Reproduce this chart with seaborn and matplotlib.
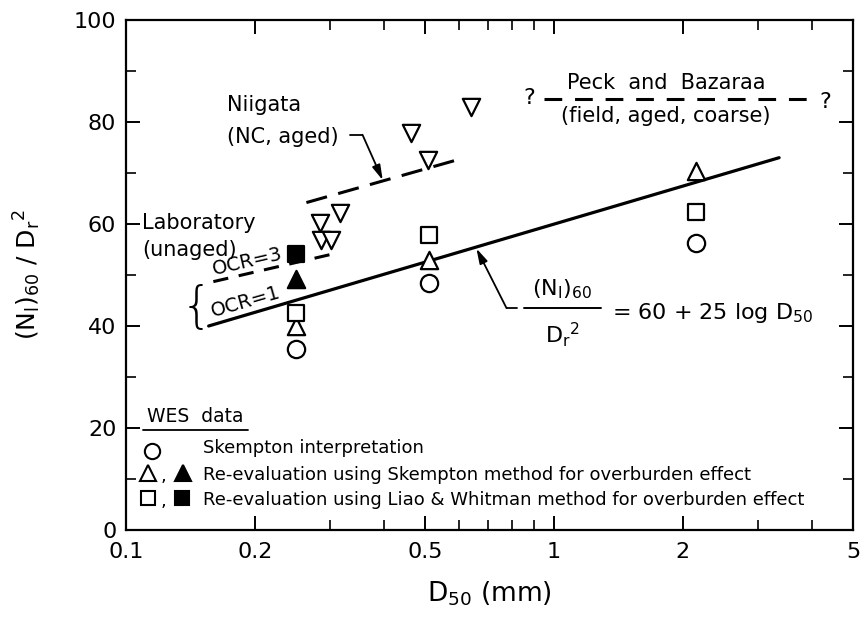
import matplotlib
matplotlib.use("Agg")
import matplotlib.pyplot as plt
import seaborn as sns
import numpy as np

sns.set_style("ticks")
plt.rcParams['font.family'] = ['DejaVu Sans']
plt.rcParams['mathtext.fontset'] = 'dejavusans'
plt.rcParams['text.color'] = 'black'
plt.rcParams['axes.labelcolor'] = 'black'
plt.rcParams['xtick.color'] = 'black'
plt.rcParams['ytick.color'] = 'black'

# ---------------- data ----------------
wes_d50 = [0.25, 0.51, 2.15]
skempton_interp = [35.5, 48.5, 56.2]
skempton_reeval = [40.0, 53.0, 70.3]
liao_whitman = [42.5, 57.8, 62.3]

ocr3_d50 = [0.25]
ocr3_skempton = [49.3]
ocr3_liao = [54.2]

niigata_d50 = [0.284, 0.286, 0.302, 0.316, 0.464, 0.508, 0.641]
niigata_vals = [60.1, 56.9, 56.9, 62.1, 77.8, 72.5, 83.0]

# trend lines
ocr1_line_d50 = [0.156, 3.36]
ocr1_line_vals = [40.0, 73.0]
ocr3_line_d50 = [0.16, 0.30]
ocr3_line_vals = [48.7, 54.0]
niigata_line_d50 = [0.264, 0.59]
niigata_line_vals = [64.2, 72.5]
peck_line_d50 = [0.95, 4.03]
peck_line_vals = [84.5, 84.5]

x_ticks = [0.1, 0.2, 0.5, 1, 2, 5]
x_tick_labels = ["0.1", "0.2", "0.5", "1", "2", "5"]
y_ticks = [0, 20, 40, 60, 80, 100]

# ---------------- figure ----------------
W, H = 862, 617
fig = plt.figure(figsize=(W / 100, H / 100), dpi=100)
ax = fig.add_axes([126 / W, 1 - 530 / H, (853 - 126) / W, (530 - 20) / H])
ax.set_xscale('log')
ax.set_xlim(0.1, 5)
ax.set_ylim(0, 100)

K = 'black'
mlw = 1.6
ms = 155

# lines
sns.lineplot(x=ocr1_line_d50, y=ocr1_line_vals, ax=ax, color=K, lw=2.3,
             estimator=None, sort=False)
sns.lineplot(x=ocr3_line_d50, y=ocr3_line_vals, ax=ax, color=K, lw=2.2,
             linestyle=(0, (5, 3.5)), estimator=None, sort=False)
sns.lineplot(x=niigata_line_d50, y=niigata_line_vals, ax=ax, color=K, lw=2.2,
             linestyle=(0, (7, 3.8)), estimator=None, sort=False)
sns.lineplot(x=peck_line_d50, y=peck_line_vals, ax=ax, color=K, lw=2.2,
             linestyle=(0, (5.8, 4.2)), estimator=None, sort=False)

# points
sns.scatterplot(x=wes_d50, y=skempton_interp, ax=ax, marker='o', s=ms,
                color='white', edgecolor=K, linewidth=mlw, zorder=5)
sns.scatterplot(x=wes_d50, y=skempton_reeval, ax=ax, marker='^', s=ms,
                color='white', edgecolor=K, linewidth=mlw, zorder=5)
sns.scatterplot(x=wes_d50, y=liao_whitman, ax=ax, marker='s', s=ms * 0.9,
                color='white', edgecolor=K, linewidth=mlw, zorder=5)
sns.scatterplot(x=ocr3_d50, y=ocr3_skempton, ax=ax, marker='^', s=ms,
                color=K, edgecolor=K, linewidth=mlw, zorder=5)
sns.scatterplot(x=ocr3_d50, y=ocr3_liao, ax=ax, marker='s', s=ms * 0.9,
                color=K, edgecolor=K, linewidth=mlw, zorder=5)
sns.scatterplot(x=niigata_d50, y=niigata_vals, ax=ax, marker='v', s=ms,
                color='white', edgecolor=K, linewidth=mlw, zorder=5)

# axes styling
for sp in ax.spines.values():
    sp.set_linewidth(1.6)
    sp.set_color(K)
ax.set_xticks(x_ticks)
ax.set_xticklabels(x_tick_labels)
ax.xaxis.set_minor_locator(matplotlib.ticker.FixedLocator(
    [0.3, 0.4, 0.6, 0.7, 0.8, 0.9, 3, 4]))
ax.xaxis.set_minor_formatter(matplotlib.ticker.NullFormatter())
ax.set_yticks(y_ticks)
ax.yaxis.set_minor_locator(matplotlib.ticker.MultipleLocator(10))
ax.tick_params(axis='both', which='major', direction='in', length=10,
               width=1.4, labelsize=16, top=True, right=True)
ax.tick_params(axis='x', which='major', pad=9)
ax.tick_params(axis='y', which='major', pad=7)
ax.tick_params(axis='both', which='minor', direction='in', length=7,
               width=1.2, top=True, right=True)
ax.set_xlabel("D$_{50}$ (mm)", fontsize=19, labelpad=12)
ax.set_ylabel("(N$_{\\rm l}$)$_{60}$ / D$_{\\rm r}$$^{2}$", fontsize=18, labelpad=22)

fs = 15
# Niigata annotation
ax.text(0.172, 83.3, "Niigata", fontsize=fs, va='center', ha='left')
ax.text(0.172, 77.0, "(NC, aged)", fontsize=fs, va='center', ha='left')
ax.plot([0.333, 0.357], [77.5, 77.5], color=K, lw=1.3)
ax.annotate("", xy=(0.398, 68.6), xytext=(0.357, 77.5),
            arrowprops=dict(arrowstyle='-|>,head_length=0.9,head_width=0.25',
                            color=K, lw=1.3, shrinkA=0, shrinkB=0))

# Peck and Bazaraa
ax.text(1.83, 87.6, "Peck  and  Bazaraa", fontsize=fs, ha='center', va='center')
ax.text(1.83, 81.2, "(field, aged, coarse)", fontsize=fs, ha='center', va='center')
ax.text(0.877, 84.8, "?", fontsize=fs + 1, ha='center', va='center')
ax.text(4.3, 84.0, "?", fontsize=fs + 1, ha='center', va='center')

# Laboratory
ax.text(0.109, 60.2, "Laboratory", fontsize=fs, ha='left', va='center')
ax.text(0.109, 54.9, "(unaged)", fontsize=fs, ha='left', va='center')
ax.text(0.1945, 50.9, "OCR=3", fontsize=14, ha='center', va='bottom',
        rotation=13, rotation_mode='anchor')
ax.text(0.193, 42.9, "OCR=1", fontsize=14, ha='center', va='bottom',
        rotation=16, rotation_mode='anchor')
ax.text(0.146, 43.5, "{", fontsize=36, ha='center', va='center',
        fontweight='light')

# Equation annotation
ax.plot([0.822, 0.775], [43.5, 43.5], color=K, lw=1.3)
ax.annotate("", xy=(0.659, 55.2), xytext=(0.775, 43.5),
            arrowprops=dict(arrowstyle='-|>,head_length=0.9,head_width=0.25',
                            color=K, lw=1.3, shrinkA=0, shrinkB=0))
ax.text(1.047, 47.2, "(N$_{\\rm l}$)$_{60}$", fontsize=16, ha='center', va='center')
ax.plot([0.85, 1.29], [43.5, 43.5], color=K, lw=1.4)
ax.text(1.047, 38.4, "D$_{\\rm r}$$^{2}$", fontsize=16, ha='center', va='center')
ax.text(1.37, 42.6, "= 60 + 25 log D$_{50}$", fontsize=16, ha='left', va='center')

# WES legend
tr = ax.transAxes
ax.text(0.112, 22.3, "WES  data", fontsize=13.5, ha='left', va='center')
ax.plot([0.0234, 0.168], [0.196, 0.196], transform=tr, color=K, lw=1.3,
        clip_on=False)
ltxt = 0.1512
lfs = 13
ax.text(ltxt, 16.1, "Skempton interpretation", fontsize=lfs, ha='left', va='center')
ax.text(ltxt, 10.8, "Re-evaluation using Skempton method for overburden effect",
        fontsize=lfs, ha='left', va='center')
ax.text(ltxt, 5.9, "Re-evaluation using Liao & Whitman method for overburden effect",
        fontsize=lfs, ha='left', va='center')
kw = dict(transform=tr, clip_on=False, color=K, mew=1.5, ms=11, ls='none')
ax.plot([0.0358], [0.155], marker='o', mfc='white', **kw)
ax.plot([0.0303], [0.112], marker='^', mfc='white', **kw)
ax.plot([0.0784], [0.112], marker='^', mfc=K, **kw)
ax.plot([0.0303], [0.063], marker='s', mfc='white', **{**kw, 'ms': 10})
ax.plot([0.0770], [0.063], marker='s', mfc=K, **{**kw, 'ms': 10})
ax.text(0.051, 0.105, ",", transform=tr, fontsize=13, ha='center', va='center')
ax.text(0.051, 0.056, ",", transform=tr, fontsize=13, ha='center', va='center')

fig.savefig("out.png", dpi=100)
